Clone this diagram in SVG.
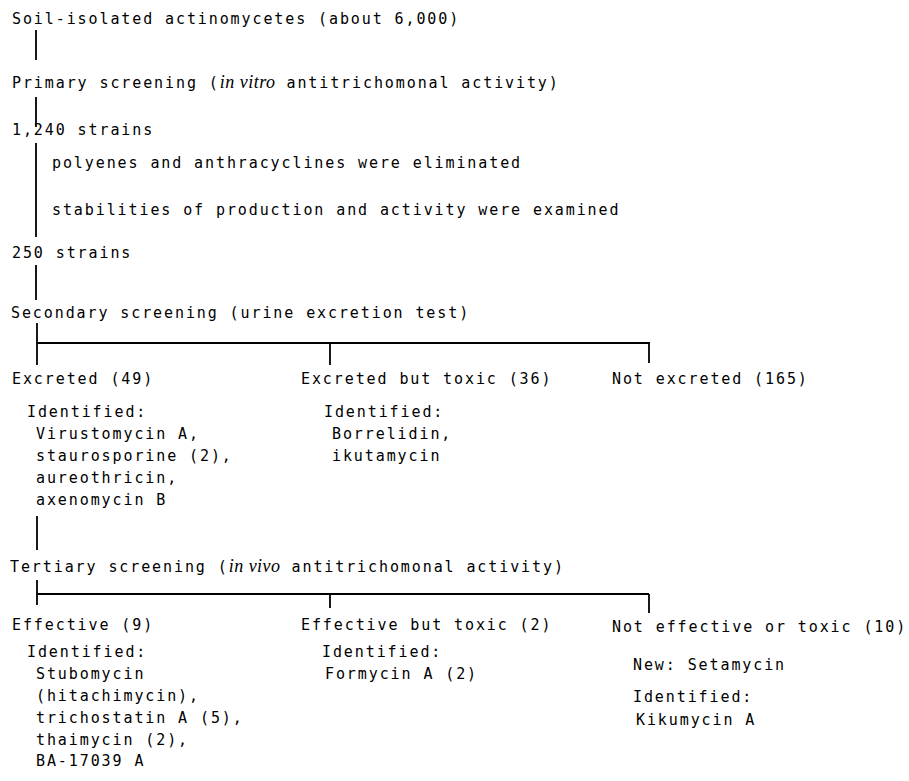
<svg xmlns="http://www.w3.org/2000/svg" width="909" height="781" viewBox="0 0 909 781">
<style>
text{font-family:"DejaVu Sans Mono","Liberation Mono",monospace;font-size:15px;letter-spacing:1.9px;fill:#000}
.it{font-family:"Liberation Serif","DejaVu Serif",serif;font-style:italic;font-size:18px;letter-spacing:0.5px}
.ln{stroke:#000;stroke-width:1.8;fill:none}
</style>
<rect width="909" height="781" fill="#fff"/>
<g id="connectors">
<path class="ln" d="M36 30V60M36 97V127M36 143V237M36 265V300M37 323V365M37 343H650M330 343V365M649 343V363M37 516V550M37 580V605M37 594H649M330 594V608M649 594V613"/>
</g>
<g id="n-soil"><text x="12" y="24">Soil-isolated actinomycetes (about 6,000)</text></g>
<g id="n-primary"><text x="12" y="88">Primary screening (<tspan class="it">in vitro</tspan> antitrichomonal activity)</text></g>
<g id="n-1240"><text x="12" y="135">1,240 strains</text></g>
<g id="n-filter"><text x="52" y="168">polyenes and anthracyclines were eliminated</text><text x="52" y="215">stabilities of production and activity were examined</text></g>
<g id="n-250"><text x="12" y="258">250 strains</text></g>
<g id="n-secondary"><text x="11" y="318">Secondary screening (urine excretion test)</text></g>
<g id="n-excreted"><text x="12" y="384">Excreted (49)</text>
<text x="27" y="417">Identified:</text>
<text x="36" y="439">Virustomycin A,</text>
<text x="36" y="461">staurosporine (2),</text>
<text x="36" y="483">aureothricin,</text>
<text x="36" y="505">axenomycin B</text></g>
<g id="n-excreted-toxic"><text x="301" y="384">Excreted but toxic (36)</text>
<text x="324" y="417">Identified:</text>
<text x="332" y="439">Borrelidin,</text>
<text x="332" y="461">ikutamycin</text></g>
<g id="n-not-excreted"><text x="612" y="384">Not excreted (165)</text></g>
<g id="n-tertiary"><text x="10" y="572">Tertiary screening (<tspan class="it">in vivo</tspan> antitrichomonal activity)</text></g>
<g id="n-effective"><text x="12" y="630">Effective (9)</text>
<text x="27" y="657">Identified:</text>
<text x="36" y="679">Stubomycin</text>
<text x="36" y="701">(hitachimycin),</text>
<text x="36" y="723">trichostatin A (5),</text>
<text x="36" y="745">thaimycin (2),</text>
<text x="36" y="766">BA-17039 A</text></g>
<g id="n-effective-toxic"><text x="301" y="630">Effective but toxic (2)</text>
<text x="322" y="657">Identified:</text>
<text x="325" y="679">Formycin A (2)</text></g>
<g id="n-not-effective"><text x="612" y="632">Not effective or toxic (10)</text>
<text x="633" y="670">New: Setamycin</text>
<text x="633" y="702">Identified:</text>
<text x="636" y="725">Kikumycin A</text></g>
</svg>
